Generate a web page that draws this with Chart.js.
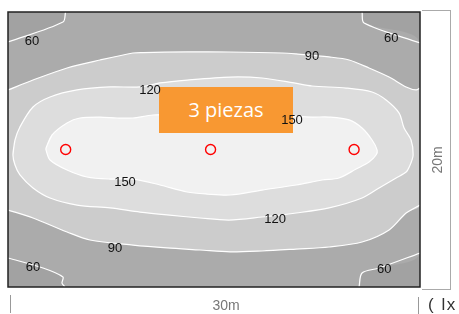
<!DOCTYPE html>
<html>
<head>
<meta charset="utf-8">
<script src="https://cdn.jsdelivr.net/npm/chart.js@4.4.1/dist/chart.umd.min.js"></script>
<style>
  body { margin: 0; background: #fff; }
  #wrap { position: relative; width: 459px; height: 314px; overflow: hidden; font-family: "Liberation Sans", Arial, sans-serif; }
  #plot { position: absolute; left: 0; top: 0; }
  .badge { position: absolute; left: 159px; top: 87px; width: 134px; height: 46px; background: #f89832;
           color: #fff; font: 20px "Open Sans", "Noto Sans", sans-serif; line-height: 46px; text-align: center; }
  .sidebox { position: absolute; left: 422px; top: 10px; width: 29px; height: 280px; border: 1px solid #aaa; border-left: none; box-sizing: border-box; }
  .ylab { position: absolute; left: 437px; top: 160px; transform: translate(-50%, -50%) rotate(-90deg); color: #777; font-size: 14px; white-space: nowrap; }
  .xlab { position: absolute; left: 226px; top: 297px; transform: translateX(-50%); color: #777; font-size: 14px; }
  .unit { position: absolute; left: 428px; top: 295px; color: #333; font-size: 17px; letter-spacing: 1.5px; white-space: nowrap; }
  .tick { position: absolute; width: 1px; background: #999; }
  .iso { position: absolute; transform: translate(-50%, -50%); color: #111; font-size: 13px; line-height: 13px; white-space: nowrap; }
</style>
</head>
<body>
<div id="wrap">
  <canvas id="plot" width="459" height="314"></canvas>
  <div class="sidebox"></div>
  <div class="ylab">20m</div>
  <div class="xlab">30m</div>
  <div class="unit">( lx )</div>
  <div class="tick" style="left:10px;top:295px;height:18px"></div>
  <div class="tick" style="left:418px;top:297px;height:17px"></div>
  <div class="badge">3 piezas</div>
</div>
<script>
// room size (m)
const roomW = 30, roomH = 20;

// luminaire positions (m)
const lampX = [4.2, 14.75, 25.2];
const lampY = [10, 10, 10];

// isolux lines, [x m, y m]
const c60TL = [[0, 17.82], [4.0, 19.27], [4.19, 20]];
const c60TR = [[25.78, 20], [25.93, 19.2], [30, 17.75]];
const c60BR = [[25.56, 0], [25.78, 1.02], [27.02, 1.38], [30, 2.47]];
const c60BL = [[0, 2.11], [2.55, 1.38], [4.0, 0.73], [3.93, 0.29], [4.15, 0]];

const c90Top = [[0, 14.33], [1.82, 15.05], [4.3, 15.93], [6.7, 16.51], [9.1, 17.02], [9.83, 17.05],
  [13, 17.1], [16.1, 17.09], [19.96, 17.02], [20.98, 16.95], [23.38, 16.73], [24.84, 16.51],
  [26.29, 15.93], [27.75, 15.27], [28.99, 14.55], [29.72, 14.33], [30, 14.47]];
const c90Bot = [[0, 5.6], [1.82, 5.02], [4.3, 4.0], [5.97, 3.42], [9.1, 3.05], [11.58, 2.84],
  [13.98, 2.69], [16.17, 2.55], [18.5, 2.62], [20.98, 2.76], [23.38, 2.91], [25.78, 3.27],
  [27.75, 4.15], [28.99, 5.38], [30, 5.96]];

const c120 = [[0.36, 9.6], [0.51, 10.69], [0.87, 11.64], [1.82, 13.09], [3.06, 13.82], [5.03, 14.33],
  [7.43, 14.55], [9.61, 14.55], [11.07, 14.84], [13.04, 15.05], [16.17, 15.27], [18.5, 15.2],
  [20.83, 14.84], [22.14, 14.62], [24.62, 14.47], [26.51, 14.18], [27.53, 13.6], [28.48, 12.65],
  [28.84, 11.56], [29.35, 10.69], [29.5, 9.6], [29.28, 8.87], [28.99, 8.36], [28.26, 7.93],
  [27.02, 7.2], [25.78, 6.47], [23.38, 5.75], [20.98, 5.38], [18.5, 5.09], [16.1, 4.87],
  [13.98, 5.02], [11.58, 5.24], [9.61, 5.45], [7.43, 5.75], [5.03, 5.96], [3.06, 6.47],
  [1.82, 7.2], [0.87, 8.15], [0.51, 8.87]];

const c150 = [[2.77, 10.11], [3.2, 11.05], [4.3, 11.93], [5.24, 12.29], [6.7, 12.36], [7.94, 12.29],
  [9.1, 12.29], [10.56, 12.51], [13.98, 12.58], [17.63, 12.58], [20.54, 12.44], [22.14, 12.36],
  [23.38, 12.36], [24.84, 12.15], [25.78, 11.56], [26.51, 10.69], [26.88, 9.96], [26.8, 9.6],
  [26.29, 9.09], [25.35, 8.58], [24.1, 7.93], [22.87, 7.78], [20.98, 7.42], [18.5, 7.05],
  [16.17, 6.69], [14.49, 6.76], [13.04, 6.91], [11.07, 7.42], [9.1, 7.85], [7.43, 7.85],
  [5.75, 8.0], [4.3, 8.51], [3.06, 9.24], [2.77, 9.96]];

// contour labels
const labelText = ['60', '60', '60', '60', '90', '90', '120', '120', '150', '150'];
const labelX = [1.75, 27.9, 1.82, 27.39, 22.14, 7.79, 10.34, 19.45, 8.52, 20.68];
const labelY = [17.96, 18.18, 1.53, 1.38, 16.87, 2.91, 14.4, 5.02, 7.71, 12.22];

// band colours, darkest first
const bandColors = ['#a2a2a2', '#ababab', '#cccccc', '#dddddd', '#f1f1f1'];

const pts = arr => arr.map(p => ({x: p[0], y: p[1]}));
const loop = arr => pts(arr.concat([arr[0], arr[1]]));

const band60 = [...c60TL, ...c60TR, ...c60BR.slice().reverse(), ...c60BL.slice().reverse()];
const band90 = [...c90Top, ...c90Bot.slice().reverse()];

function area(data, color, order) {
  return { data: pts(data), showLine: true, fill: 'shape', backgroundColor: color,
           borderWidth: 0, borderColor: 'rgba(0,0,0,0)', pointRadius: 0, tension: 0.3, order };
}
function areaLoop(data, color, order) {
  return Object.assign(area(data, color, order), { data: loop(data) });
}
function iso(data, closed) {
  return { data: closed ? loop(data) : pts(data), showLine: true, fill: false, borderColor: '#fff',
           borderWidth: 1.2, pointRadius: 0, tension: 0.3, order: 2 };
}

const plotBg = {
  id: 'plotBg',
  beforeDatasetsDraw(chart) {
    const {ctx, chartArea: a} = chart;
    ctx.save();
    ctx.fillStyle = bandColors[0];
    ctx.fillRect(a.left, a.top, a.right - a.left, a.bottom - a.top);
    ctx.restore();
  },
  afterDraw(chart) {
    const {ctx, chartArea: a} = chart;
    ctx.save();
    ctx.strokeStyle = '#222';
    ctx.lineWidth = 1.5;
    ctx.strokeRect(a.left, a.top, a.right - a.left, a.bottom - a.top);
    ctx.restore();
  }
};

const chart = new Chart(document.getElementById('plot'), {
  type: 'scatter',
  data: {
    datasets: [
      area(band60, bandColors[1], 10),
      area(band90, bandColors[2], 9),
      areaLoop(c120, bandColors[3], 8),
      areaLoop(c150, bandColors[4], 7),
      iso(c60TL), iso(c60TR), iso(c60BR), iso(c60BL),
      iso(c90Top), iso(c90Bot), iso(c120, true), iso(c150, true),
      { data: lampX.map((x, i) => ({x, y: lampY[i]})), pointRadius: 5, pointBorderWidth: 1.4,
        pointBorderColor: '#ff0000', pointBackgroundColor: 'rgba(0,0,0,0)', order: 1 }
    ]
  },
  options: {
    responsive: false,
    animation: false,
    layout: { padding: { left: 8, top: 12, right: 39, bottom: 27 } },
    scales: {
      x: { type: 'linear', min: 0, max: roomW, display: false },
      y: { type: 'linear', min: 0, max: roomH, display: false }
    },
    plugins: { legend: { display: false }, tooltip: { enabled: false } }
  },
  plugins: [plotBg]
});

// contour values as text, placed through the chart scales (above the badge)
const wrap = document.getElementById('wrap');
labelText.forEach((t, i) => {
  const d = document.createElement('div');
  d.className = 'iso';
  d.textContent = t;
  d.style.left = chart.scales.x.getPixelForValue(labelX[i]) + 'px';
  d.style.top = chart.scales.y.getPixelForValue(labelY[i]) + 'px';
  wrap.appendChild(d);
});
</script>
</body>
</html>
